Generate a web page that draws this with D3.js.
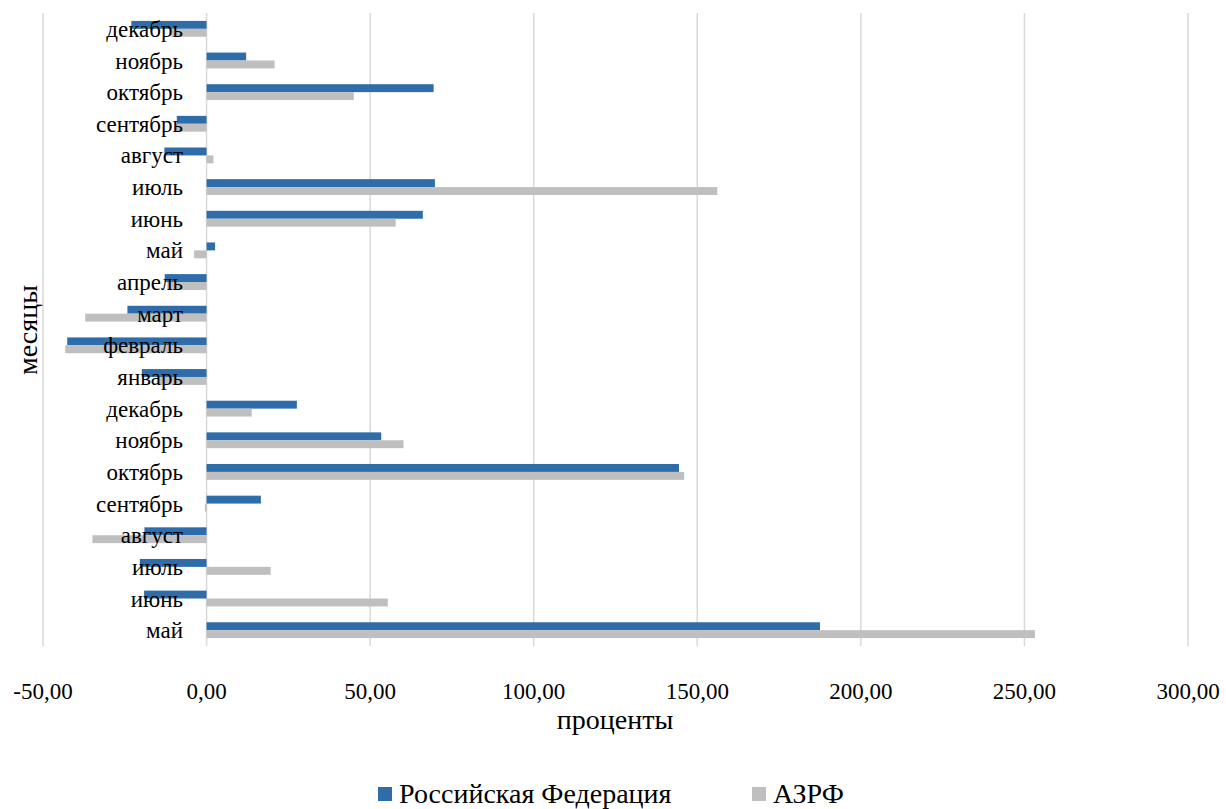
<!DOCTYPE html>
<html><head><meta charset="utf-8">
<script src="https://cdn.jsdelivr.net/npm/d3@7/dist/d3.min.js"></script>
<style>body{margin:0;background:#fff;}</style>
</head><body><svg id="c" width="1226" height="809"></svg>
<script>
// categories bottom to top
const months = ["май","июнь","июль","август","сентябрь","октябрь","ноябрь","декабрь","январь","февраль","март","апрель","май","июнь","июль","август","сентябрь","октябрь","ноябрь","декабрь"];
const rf   = [187.5,-19.1,-20.4,-19.0,16.6,144.4,53.4,27.6,-19.8,-42.6,-24.2,-12.8,2.6,66.1,69.8,-12.9,-9.1,69.4,12.1,-23.0];
const azrf = [253.2,55.4,19.6,-34.9,-0.5,146.0,60.2,13.8,-15.0,-43.2,-37.1,-12.0,-3.8,57.8,156.1,2.1,-9.5,45.0,20.8,-11.0];
const xTicks = [-50,0,50,100,150,200,250,300];
const seriesNames = ["Российская Федерация","АЗРФ"];
const colors = ["#2e6da9","#bfbfbf"];

// pick an installed serif font if any
function pickFont(){
  const c = document.createElement("canvas").getContext("2d");
  const sample = "Российская Федерация abcdefghijklm 0123456789";
  const cands = ["Liberation Serif","DejaVu Serif","Times New Roman","Tinos","Noto Serif","FreeSerif","Nimbus Roman","Nimbus Roman No9 L","Times"];
  for (const f of cands){
    let diff = false;
    for (const base of ["monospace","sans-serif"]){
      c.font = "40px " + base; const w0 = c.measureText(sample).width;
      c.font = "40px '" + f + "'," + base; const w1 = c.measureText(sample).width;
      if (Math.abs(w0-w1) > 0.5) diff = true; else { diff = false; break; }
    }
    if (diff) return "'" + f + "',serif";
  }
  return "serif";
}
const FONT = pickFont();

const svg = d3.select("#c");
const x = d3.scaleLinear().domain([-50,300]).range([43,1188]);
const keys = months.map((m,i)=>i);
const y = d3.scaleBand().domain(keys.slice().reverse()).range([13,646]).paddingInner(0.5).paddingOuter(0.25);

// gridlines
svg.append("g").selectAll("line").data(xTicks).join("line")
  .attr("x1",d=>x(d)).attr("x2",d=>x(d)).attr("y1",13).attr("y2",646)
  .attr("stroke","#d9d9d9").attr("stroke-width",1.5);

const bh = y.bandwidth()/2;
const g = svg.append("g");
[rf, azrf].forEach((arr,s)=>{
  g.selectAll(".b"+s).data(arr).join("rect")
    .attr("x",d=>x(Math.min(0,d))).attr("width",d=>Math.abs(x(d)-x(0)))
    .attr("y",(d,i)=>y(i)+s*bh).attr("height",bh)
    .attr("fill",colors[s]);
});

// category labels
svg.append("g").selectAll("text").data(months).join("text")
  .attr("font-family",FONT)
  .attr("x",183).attr("y",(d,i)=>y(i)+y.bandwidth()/2).attr("dy","0.35em")
  .attr("text-anchor","end").attr("font-size",23).attr("fill","#000").text(d=>d);

// x tick labels
svg.append("g").selectAll("text").data(xTicks).join("text")
  .attr("font-family",FONT)
  .attr("x",d=>x(d)).attr("y",699).attr("text-anchor","middle")
  .attr("font-size",23).attr("fill","#000")
  .text(d=>d3.format(".2f")(d).replace(".",",").replace("\u2212","-"));

// axis titles
svg.append("text").attr("font-family",FONT).attr("x",615).attr("y",729).attr("text-anchor","middle")
  .attr("font-size",28).text("проценты");
svg.append("text").attr("font-family",FONT).attr("transform","translate(37,330) rotate(-90)").attr("text-anchor","middle")
  .attr("font-size",28).text("месяцы");

// legend
const leg = svg.append("g");
const legX = [378, 752];
seriesNames.forEach((n,i)=>{
  leg.append("rect").attr("x",legX[i]).attr("y",787).attr("width",14).attr("height",14).attr("fill",colors[i]);
  leg.append("text").attr("font-family",FONT).attr("x",legX[i]+21).attr("y",803).attr("font-size",28).text(n);
});
</script></body></html>
